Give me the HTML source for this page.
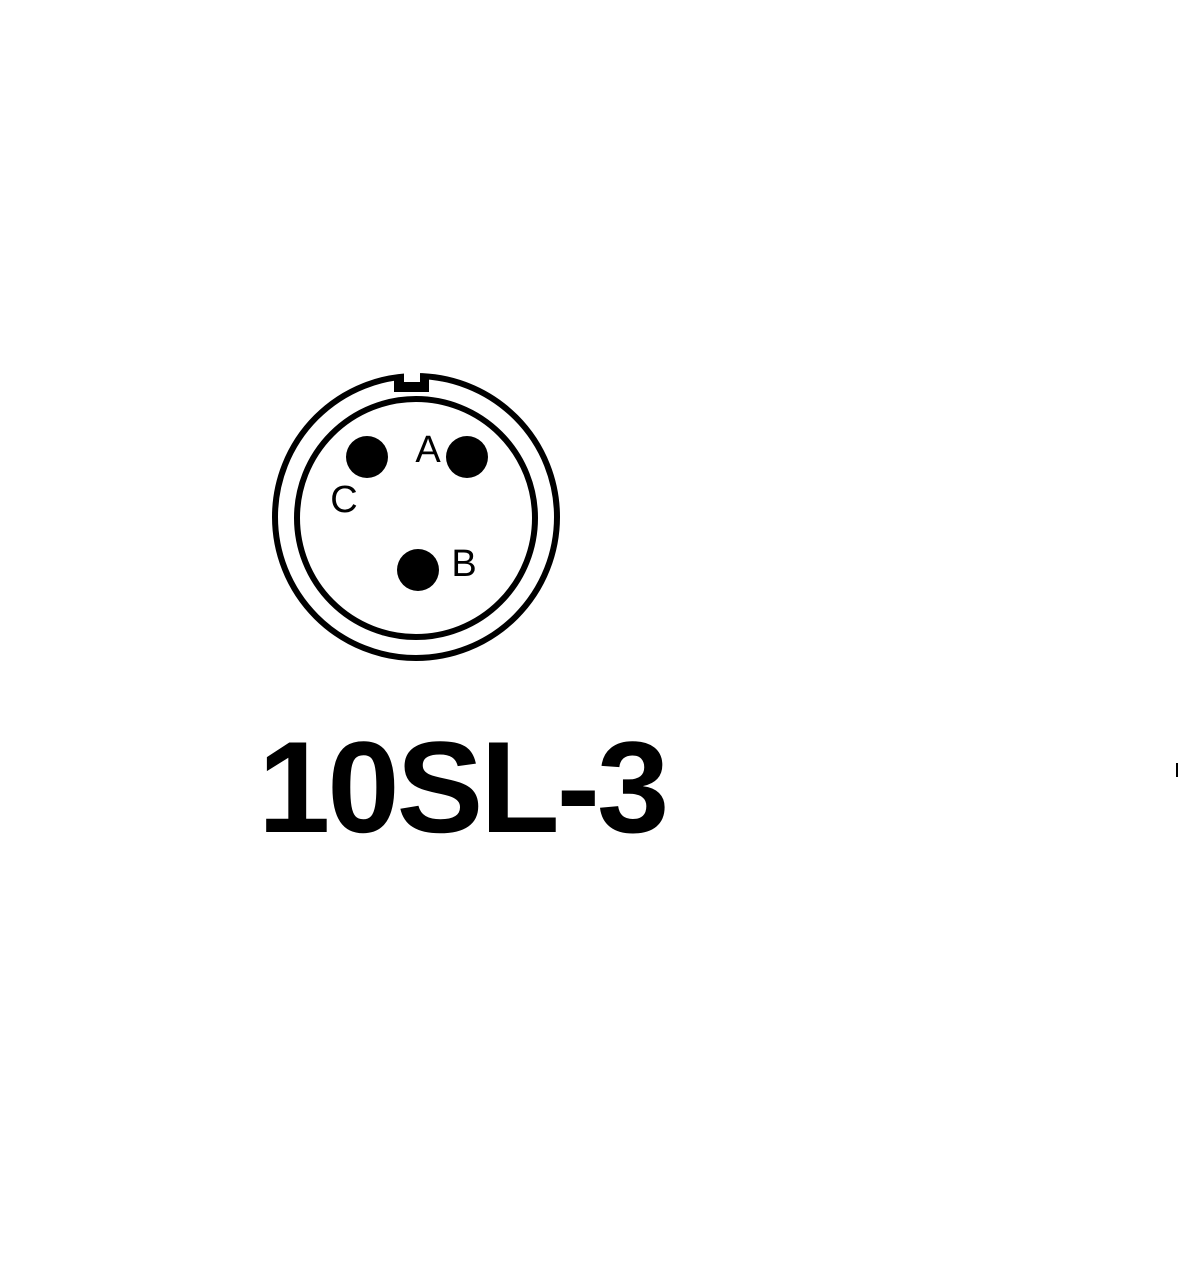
<!DOCTYPE html>
<html><head><style>body{margin:0;background:#fff}svg{display:block}</style></head>
<body>
<svg width="1178" height="1270" viewBox="0 0 1178 1270">
<rect width="1178" height="1270" fill="#fff"/>
<circle cx="416" cy="517" r="141" fill="none" stroke="#000" stroke-width="6"/>
<circle cx="416" cy="518" r="119" fill="none" stroke="#000" stroke-width="6"/>
<rect x="394" y="377" width="35" height="15" fill="#000"/>
<rect x="404" y="370" width="16" height="12" fill="#fff"/>
<circle cx="367" cy="457" r="21" fill="#000"/>
<circle cx="467" cy="457" r="21" fill="#000"/>
<circle cx="418" cy="570" r="21" fill="#000"/>
<g font-family="Liberation Sans, sans-serif" font-size="38" fill="#000" text-anchor="middle">
<text x="428" y="462">A</text>
<text x="344" y="512">C</text>
<text x="464" y="576">B</text>
</g>
<text x="258" y="832" font-family="Liberation Sans, sans-serif" font-weight="bold" font-size="130" letter-spacing="-3">10SL-3</text>
<rect x="1176" y="763" width="2" height="14" fill="#000"/>
</svg>
</body></html>
